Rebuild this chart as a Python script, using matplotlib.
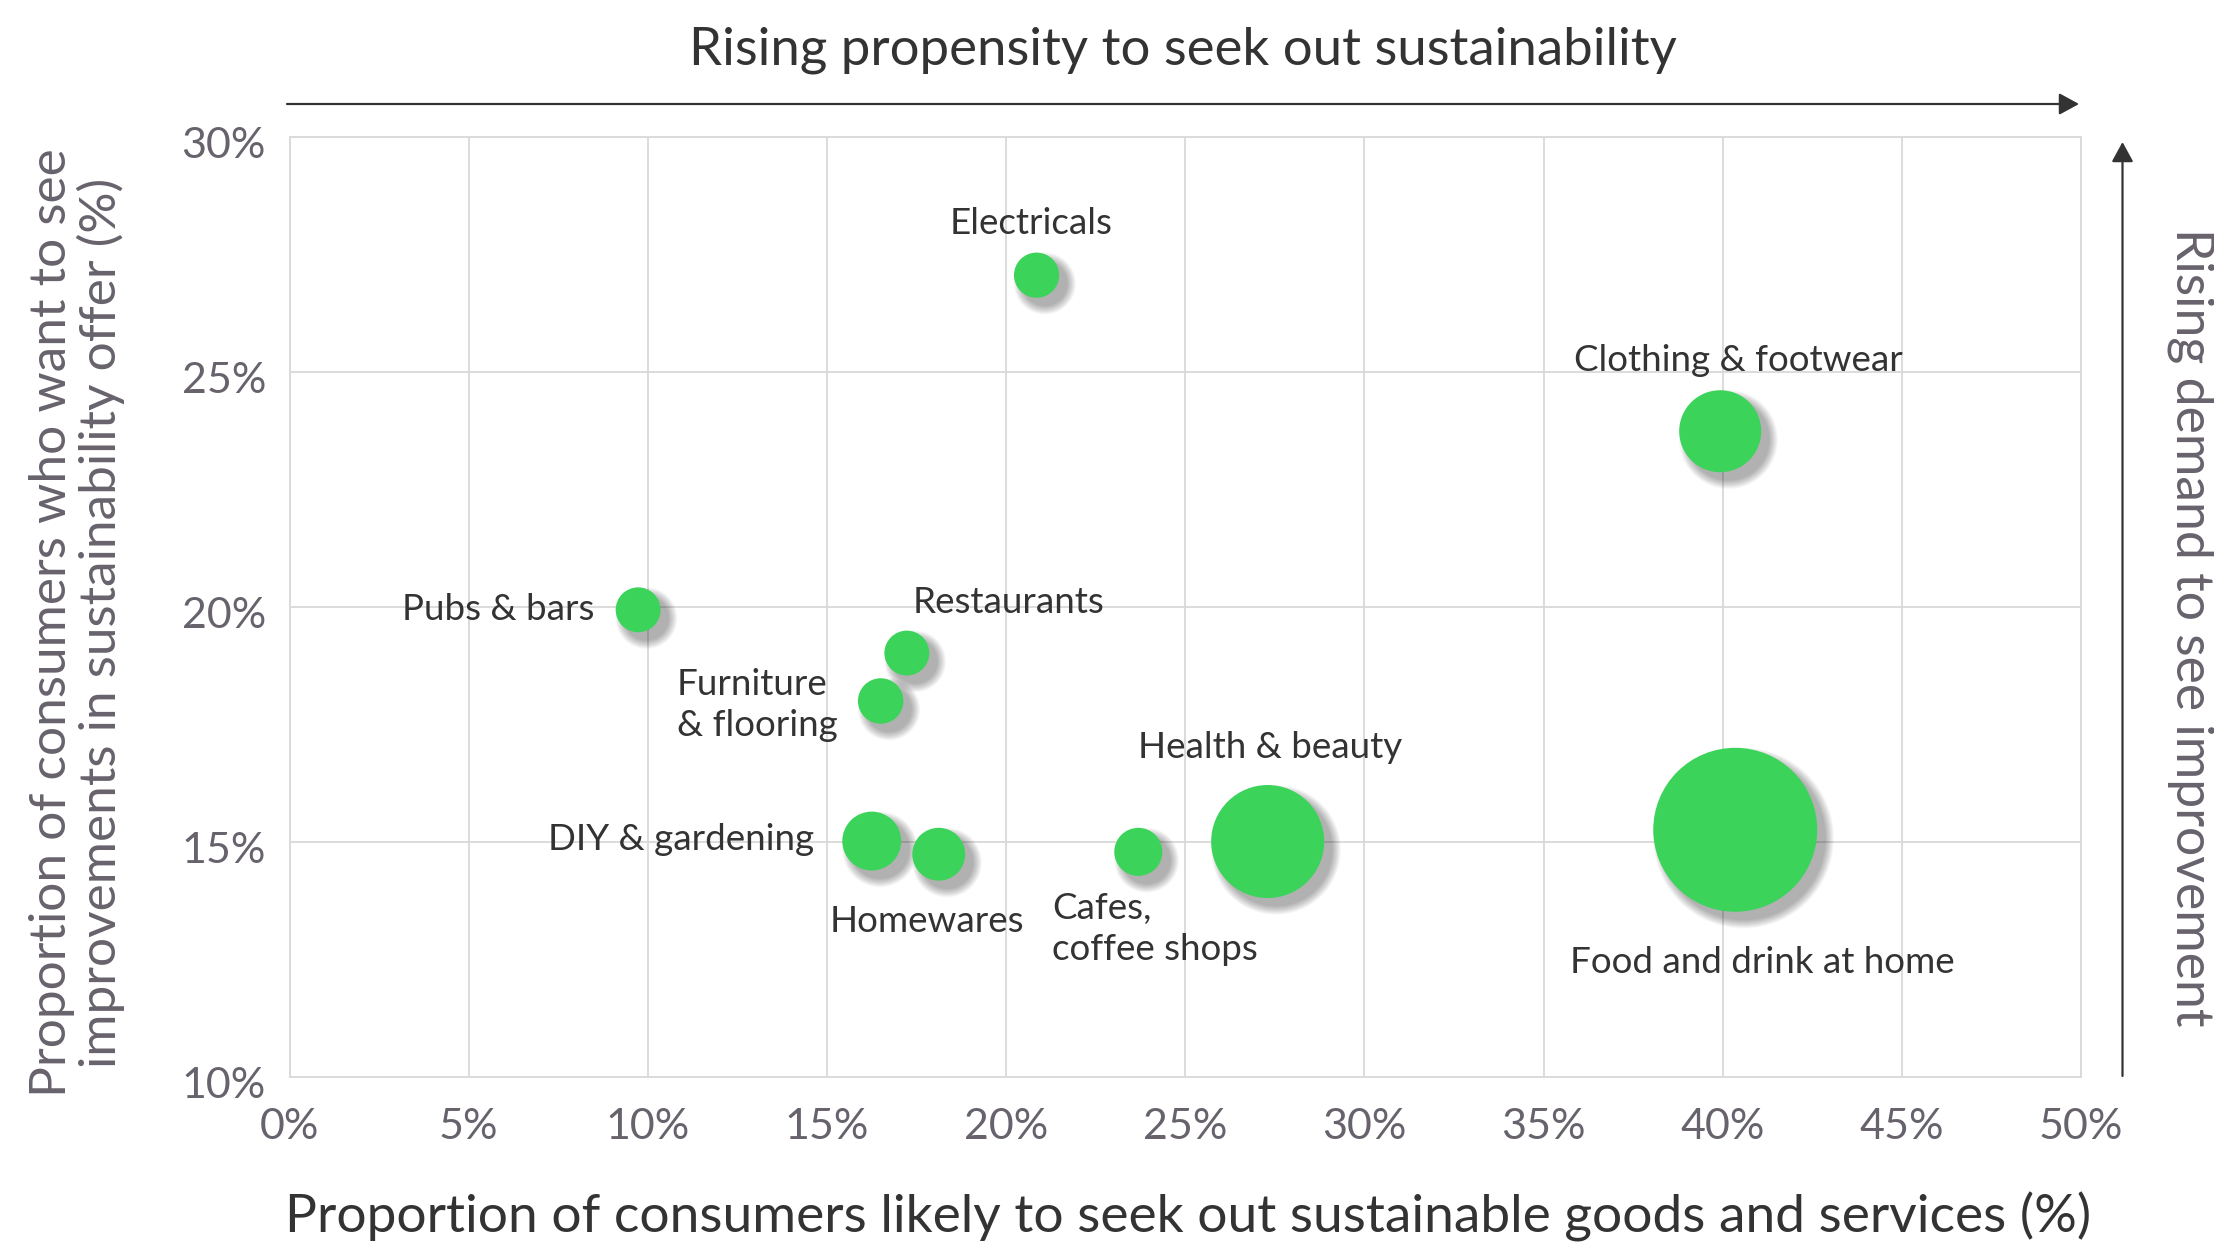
import matplotlib
matplotlib.use("Agg")
import matplotlib.pyplot as plt
import matplotlib.transforms as mtransforms
import numpy as np

# data
categories = ["Electricals", "Clothing & footwear", "Pubs & bars", "Restaurants",
              "Furniture\n& flooring", "DIY & gardening", "Homewares",
              "Cafes,\ncoffee shops", "Health & beauty", "Food and drink at home"]
seek_out = [20.85, 39.93, 9.73, 17.23, 16.50, 16.25, 18.12, 23.69, 27.30, 40.35]
want_improve = [27.06, 23.74, 19.94, 19.02, 18.00, 15.02, 14.74, 14.79, 15.01, 15.26]
bubble_size = [7.6, 25.0, 7.5, 7.5, 7.7, 12.9, 10.4, 8.6, 47.5, 100.0]

x_ticks = [0, 5, 10, 15, 20, 25, 30, 35, 40, 45, 50]
y_ticks = [10, 15, 20, 25, 30]

# label placement: offset in pixels (to last-line baseline) from bubble centre + alignment
label_offsets = [(-5, 41, "center"), (18, 60, "center"), (-44, -10, "right"),
                 (6, 40, "left"), (-204, -35, "left"), (-58, -9, "right"),
                 (-12, -78, "center"), (-86, -108, "left"), (2, 84, "center"),
                 (27, -143, "center")]

GREEN = "#3bd35a"
DARK = "#333333"
GREY = "#67626c"
GRID = "#d9d9d9"
SIZE_SCALE = 139.4

plt.rcParams["font.family"] = ["Lato", "DejaVu Sans"]

fig = plt.figure(figsize=(22.14, 12.46), dpi=100)
ax = fig.add_axes([289.5 / 2214, 1 - 1077 / 1246, (2081 - 289.5) / 2214, (1077 - 137) / 1246])

sizes = np.array(bubble_size) * SIZE_SCALE

# soft drop shadow: stacked translucent discs shifted down-right
shadow_shift = mtransforms.ScaledTranslation(6 / 72, -6 / 72, fig.dpi_scale_trans)
for j in range(12):
    grown = (np.sqrt(sizes) + j * 1.1) ** 2
    ax.scatter(seek_out, want_improve, s=grown, color="black", alpha=0.028,
               linewidths=0, transform=ax.transData + shadow_shift, zorder=2)

ax.scatter(seek_out, want_improve, s=sizes, color=GREEN, linewidths=0, zorder=3)

for name, x, y, (dx, dy, ha) in zip(categories, seek_out, want_improve, label_offsets):
    ax.annotate(name, (x, y), xytext=(dx, dy), textcoords="offset pixels",
                ha=ha, va="baseline", fontsize=26.5, color=DARK, zorder=4,
                linespacing=1.3)

ax.set_xlim(0, 50)
ax.set_ylim(10, 30)
ax.set_xticks(x_ticks)
ax.set_yticks(y_ticks)
ax.set_xticklabels([f"{t}%" for t in x_ticks])
ax.set_yticklabels([f"{t}%" for t in y_ticks])
ax.tick_params(length=0, labelsize=31, labelcolor=GREY)
ax.tick_params(axis="x", pad=22)
ax.tick_params(axis="y", pad=17)
# y tick labels sit a touch below their gridlines in the original
nudge = mtransforms.ScaledTranslation(0, -4 / 72, fig.dpi_scale_trans)
for lbl in ax.get_yticklabels():
    lbl.set_transform(lbl.get_transform() + nudge)
ax.grid(True, color=GRID, linewidth=1.3, zorder=0)
ax.set_axisbelow(True)
for sp in ax.spines.values():
    sp.set_color(GRID)
    sp.set_linewidth(1.3)

# titles and axis captions
fig.text(1183 / 2214, 1 - 64 / 1246, "Rising propensity to seek out sustainability",
         ha="center", va="baseline", fontsize=38, color=DARK)
fig.text(1188 / 2214, 1 - 1233 / 1246,
         "Proportion of consumers likely to seek out sustainable goods and services (%)",
         ha="center", va="baseline", fontsize=38.3, color=DARK)
fig.text(77 / 2214, 1 - 623 / 1246,
         "Proportion of consumers who want to see\nimprovements in sustainability offer (%)",
         ha="center", va="center", rotation=90, fontsize=37, color=GREY, linespacing=1.05)
fig.text(2191 / 2214, 1 - 627 / 1246, "Rising demand to see improvement",
         ha="center", va="center", rotation=270, fontsize=37.3, color=GREY)

# direction arrows
arrow_style = dict(arrowstyle="-|>,head_length=0.55,head_width=0.3", color=DARK,
                   lw=1.6, mutation_scale=22, shrinkA=0, shrinkB=0)
fig.add_artist(matplotlib.patches.FancyArrowPatch(
    (287 / 2214, 1 - 104 / 1246), (2079 / 2214, 1 - 104 / 1246),
    transform=fig.transFigure, **arrow_style))
fig.add_artist(matplotlib.patches.FancyArrowPatch(
    (2122.5 / 2214, 1 - 1076 / 1246), (2122.5 / 2214, 1 - 142 / 1246),
    transform=fig.transFigure, **arrow_style))

fig.savefig("out.png", dpi=100)
